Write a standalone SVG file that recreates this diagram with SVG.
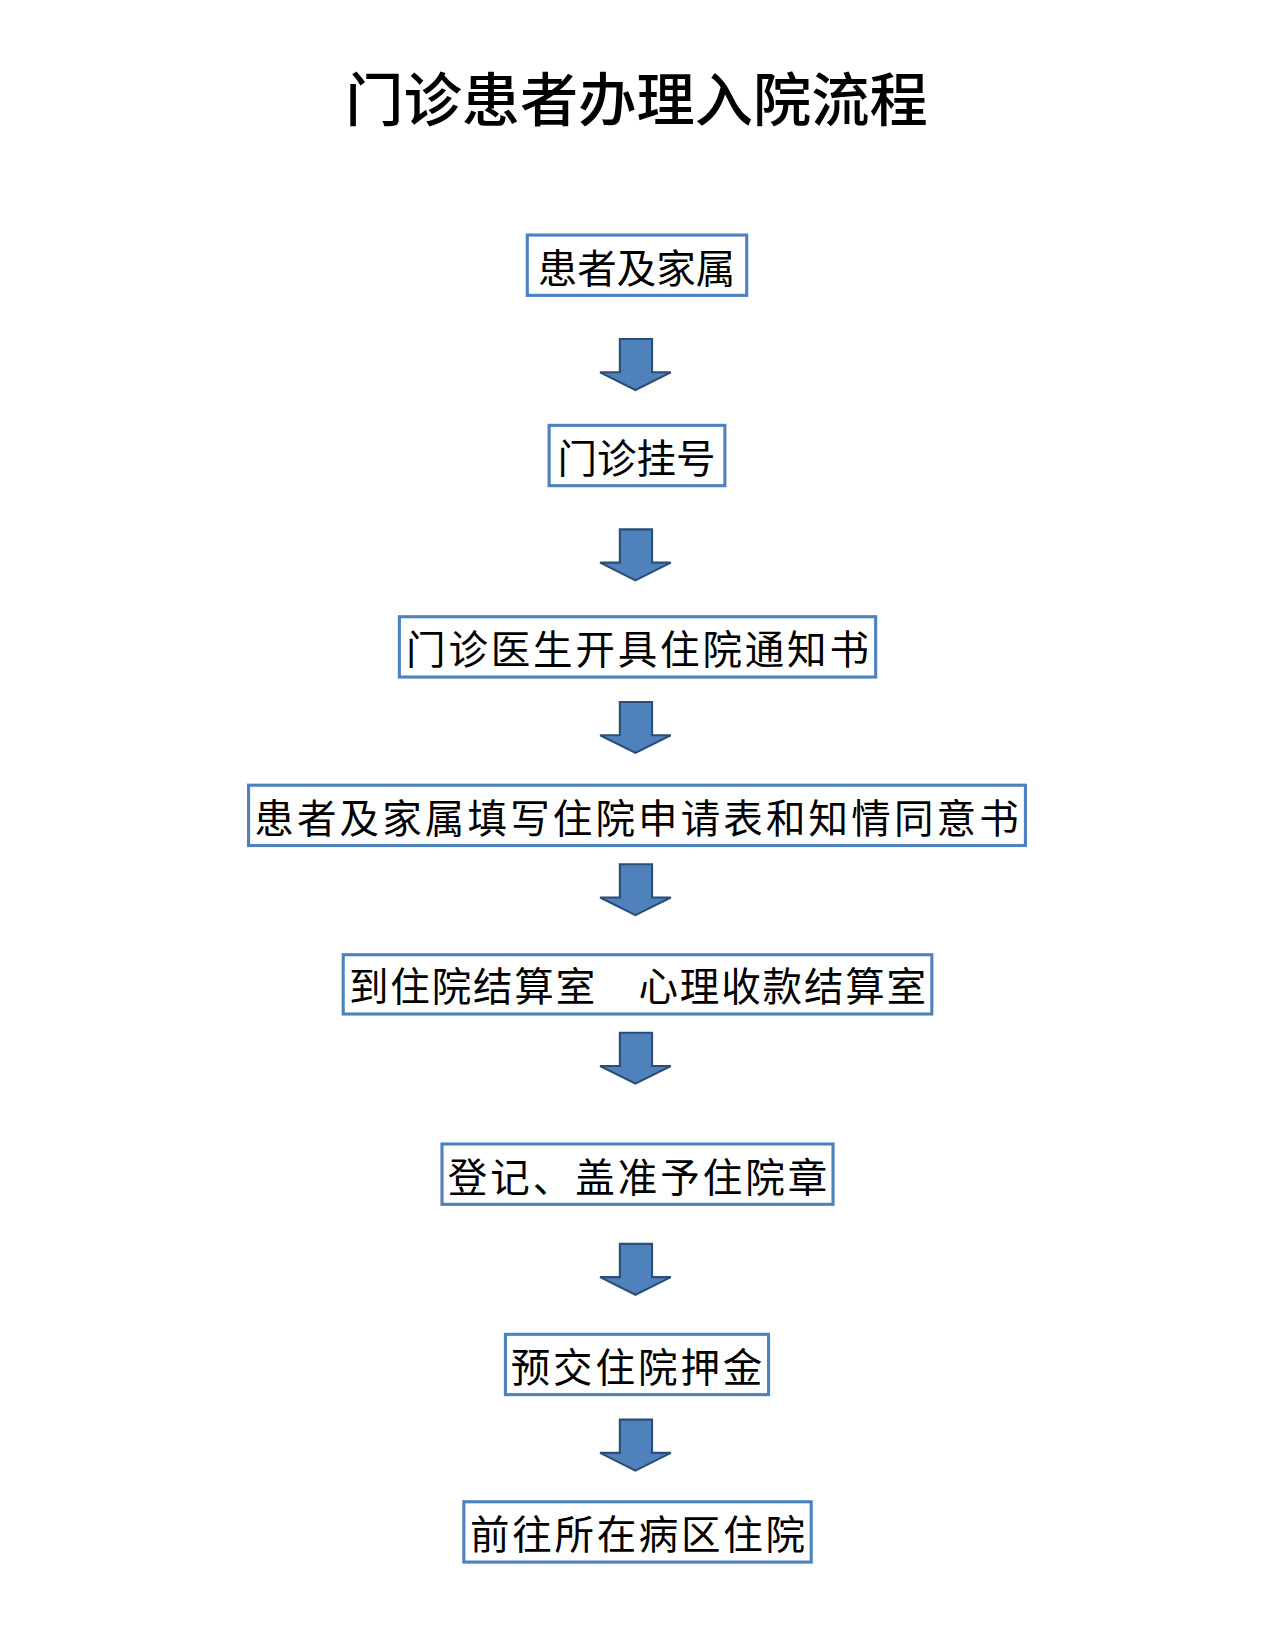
<svg xmlns="http://www.w3.org/2000/svg" width="1270" height="1626" viewBox="0 0 1270 1626">
<defs><style>
.b{fill:#fff;stroke:#4f81bd;stroke-width:3}
.t{font-family:"Noto Sans CJK SC",sans-serif;font-size:38px;fill:#000;text-anchor:middle;dominant-baseline:central}
.a{fill:#4f81bd;stroke:#2c4d75;stroke-width:2}
</style>
<path id="arr" class="a" d="M-15,0 H16 V32 H34 L0,49 L-34,32 H-15 Z"/></defs>
<rect width="1270" height="1626" fill="#fff"/>
<g transform="scale(1.04)">
<text x="612" y="92" style="font-family:'Noto Sans CJK SC',sans-serif;font-size:56px;font-weight:500;text-anchor:middle;dominant-baseline:central">门诊患者办理入院流程</text>
<g id="connectors">
<use href="#arr" x="611" y="326"/><use href="#arr" x="611" y="509"/><use href="#arr" x="611" y="675"/><use href="#arr" x="611" y="831"/><use href="#arr" x="611" y="993"/><use href="#arr" x="611" y="1196"/><use href="#arr" x="611" y="1365"/>
</g>
<g id="n1"><rect class="b" x="507" y="226" width="211" height="58"/><text class="t" x="612" y="255">患者及家属</text></g>
<g id="n2"><rect class="b" x="528" y="409" width="169" height="58"/><text class="t" x="612" y="438">门诊挂号</text></g>
<g id="n3"><rect class="b" x="384" y="593" width="458" height="58"/><text class="t" x="613" y="622" textLength="445">门诊医生开具住院通知书</text></g>
<g id="n4"><rect class="b" x="239" y="755" width="747" height="58"/><text class="t" x="612" y="784" textLength="735">患者及家属填写住院申请表和知情同意书</text></g>
<g id="n5"><rect class="b" x="330" y="918" width="566" height="57"/><text class="t" x="613" y="946" textLength="555">到住院结算室　心理收款结算室</text></g>
<g id="n6"><rect class="b" x="425" y="1100" width="376" height="58"/><text class="t" x="613" y="1129" textLength="365">登记、盖准予住院章</text></g>
<g id="n7"><rect class="b" x="486" y="1283" width="253" height="58"/><text class="t" x="612" y="1312" textLength="242">预交住院押金</text></g>
<g id="n8"><rect class="b" x="446" y="1444" width="334" height="58"/><text class="t" x="613" y="1473" textLength="322">前往所在病区住院</text></g>
</g>
</svg>
